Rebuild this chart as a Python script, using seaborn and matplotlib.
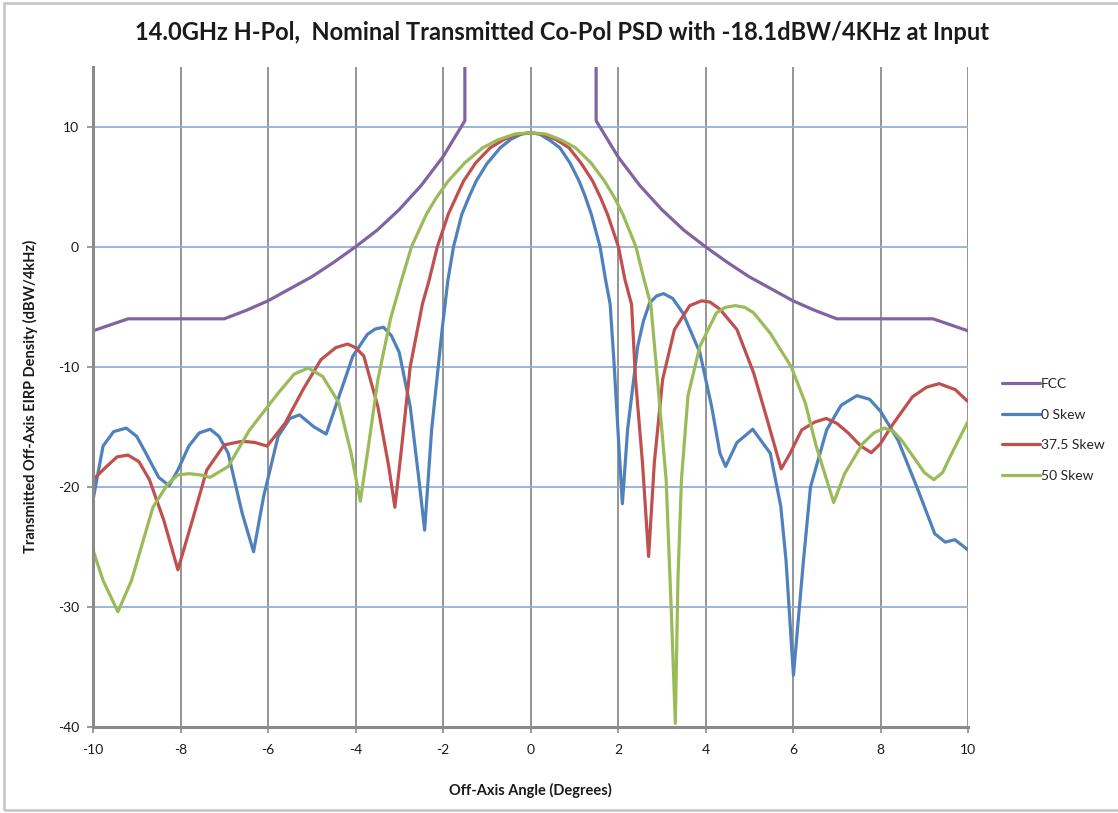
import numpy as np
import pandas as pd
import matplotlib.pyplot as plt
import seaborn as sns
from matplotlib.lines import Line2D
from matplotlib.patches import Rectangle

# ---- data ----
fcc_deg = [-10, -9.2, -7, -6.5, -6, -5.5, -5, -4.5, -4, -3.5, -3, -2.5, -2, -1.5, -1.5,
           1.5, 1.5, 2, 2.5, 3, 3.5, 4, 4.5, 5, 5.5, 6, 6.5, 7, 9.2, 10]
fcc_db = [-7.0, -6.0, -6.0, -5.3, -4.5, -3.5, -2.5, -1.3, 0.0, 1.4, 3.1, 5.1, 7.5, 10.5, 15,
          15, 10.5, 7.5, 5.1, 3.1, 1.4, 0.0, -1.3, -2.5, -3.5, -4.5, -5.3, -6.0, -6.0, -7.0]
fcc_seg = ["left"] * 15 + ["right"] * 15

blue_deg = [-10, -9.77, -9.53, -9.24, -9.0, -8.79, -8.5, -8.26, -8.06, -7.81,
            -7.57, -7.32, -7.12, -6.91, -6.59, -6.33, -6.1, -5.77, -5.5, -5.28,
            -4.95, -4.67, -4.38, -4.06, -3.73, -3.55, -3.36, -3.18, -3.0, -2.75,
            -2.55, -2.42, -2.26, -2.02, -1.89, -1.76, -1.57, -1.4, -1.24, -1.0,
            -0.69, -0.45, -0.2, 0, 0.2, 0.45, 0.67, 0.9, 1.11, 1.25,
            1.39, 1.59, 1.72, 1.82, 1.91, 2.02, 2.1, 2.22, 2.45, 2.58,
            2.72, 2.88, 3.04, 3.25, 3.48, 3.87, 4.14, 4.33, 4.46, 4.72,
            5.08, 5.48, 5.72, 5.84, 6.01, 6.24, 6.40, 6.77, 7.1, 7.46,
            7.75, 8.0, 8.4, 8.83, 9.24, 9.48, 9.7, 10]
blue_db = [-21.1, -16.6, -15.4, -15.1, -15.8, -17.2, -19.2, -19.9, -18.6, -16.6,
           -15.5, -15.2, -15.8, -17.2, -22.2, -25.4, -20.8, -15.8, -14.3, -14.0,
           -15.0, -15.6, -12.5, -9.1, -7.3, -6.85, -6.7, -7.4, -8.8, -13.3,
           -19.4, -23.6, -15.25, -6.9, -2.83, 0, 2.71, 4.2, 5.48, 6.9,
           8.25, 8.95, 9.4, 9.5, 9.4, 8.85, 8.25, 7.0, 5.48, 4.2,
           2.71, 0, -2.83, -4.76, -9.7, -16.6, -21.4, -15.2, -8.3, -6.2,
           -4.7, -4.1, -3.9, -4.3, -5.5, -8.8, -13.3, -17.2, -18.3, -16.3,
           -15.2, -17.2, -21.6, -26.1, -35.7, -26.1, -20, -15.25, -13.2, -12.4,
           -12.7, -13.7, -16.1, -20, -23.9, -24.6, -24.4, -25.25]

red_deg = [-10, -9.69, -9.45, -9.2, -8.95, -8.71, -8.38, -8.06, -7.73, -7.4,
           -7.0, -6.59, -6.3, -6.02, -5.61, -5.2, -4.79, -4.45, -4.18, -4.0,
           -3.81, -3.49, -3.24, -3.1, -2.96, -2.75, -2.47, -2.32, -2.13, -1.88,
           -1.53, -1.25, -0.92, -0.6, -0.3, 0, 0.3, 0.6, 0.88, 1.15,
           1.42, 1.6, 1.76, 2.01, 2.16, 2.31, 2.40, 2.56, 2.70, 2.83,
           3.02, 3.29, 3.64, 3.91, 4.1, 4.33, 4.72, 5.1, 5.41, 5.73,
           5.92, 6.2, 6.5, 6.76, 7.0, 7.26, 7.55, 7.79, 8.0, 8.24,
           8.73, 9.05, 9.34, 9.71, 10]
red_db = [-19.4, -18.3, -17.5, -17.35, -17.9, -19.4, -22.8, -26.9, -22.8, -18.6,
          -16.5, -16.2, -16.3, -16.6, -14.7, -11.9, -9.4, -8.4, -8.1, -8.4,
          -9.1, -13.3, -18.3, -21.7, -17.2, -10, -4.76, -2.83, 0, 2.71,
          5.48, 7.0, 8.25, 8.95, 9.35, 9.5, 9.35, 8.9, 8.25, 7.0,
          5.48, 4.1, 2.71, 0, -2.75, -4.8, -11, -18, -25.8, -18,
          -11.05, -6.9, -4.9, -4.5, -4.6, -5.2, -6.9, -10.5, -14.4, -18.5,
          -17.3, -15.25, -14.6, -14.3, -14.7, -15.5, -16.6, -17.15, -16.4, -15,
          -12.5, -11.7, -11.4, -11.9, -12.9]

green_deg = [-10, -9.77, -9.43, -9.12, -8.63, -8.3, -8.06, -7.8, -7.55, -7.32,
             -6.91, -6.42, -5.77, -5.4, -5.08, -4.75, -4.38, -4.1, -3.89, -3.7,
             -3.49, -3.2, -2.95, -2.72, -2.38, -2.15, -1.88, -1.5, -1.09, -0.75,
             -0.35, 0, 0.35, 0.7, 1.03, 1.38, 1.69, 1.92, 2.11, 2.41,
             2.6, 2.75, 2.87, 3.1, 3.22, 3.31, 3.37, 3.45, 3.6, 3.87,
             4.25, 4.45, 4.68, 4.9, 5.1, 5.48, 5.72, 5.96, 6.28, 6.53,
             6.93, 7.18, 7.59, 7.85, 8.09, 8.3, 8.48, 8.81, 9.0, 9.22,
             9.42, 9.63, 10]
green_db = [-25.25, -27.8, -30.4, -27.8, -21.7, -19.8, -19.0, -18.9, -19.0, -19.2,
            -18.3, -15.25, -12.2, -10.6, -10.1, -10.8, -13.0, -17.2, -21.2, -16.5,
            -11.1, -6.0, -2.8, 0, 2.71, 4.1, 5.48, 7.0, 8.25, 8.9,
            9.4, 9.5, 9.4, 8.9, 8.25, 7.0, 5.48, 4.1, 2.71, 0,
            -2.8, -4.8, -9.7, -19.4, -30.5, -39.7, -27.7, -19.4, -12.4, -8.3,
            -5.5, -5.05, -4.9, -5.05, -5.5, -7.2, -8.6, -10, -13, -16.6,
            -21.3, -18.9, -16.4, -15.5, -15.1, -15.4, -16.1, -17.8, -18.8, -19.4,
            -18.8, -17.2, -14.55]

series_names = ["FCC", "0 Skew", "37.5 Skew", "50 Skew"]
colors = {"FCC": "#8064A2", "0 Skew": "#4F81BD", "37.5 Skew": "#C0504D", "50 Skew": "#9BBB59"}

title = "14.0GHz H-Pol,  Nominal Transmitted Co-Pol PSD with -18.1dBW/4KHz at Input"
xlabel = "Off-Axis Angle (Degrees)"
ylabel = "Transmitted Off-Axis EIRP Density (dBW/4kHz)"
x_ticks = [-10, -8, -6, -4, -2, 0, 2, 4, 6, 8, 10]
y_ticks = [-40, -30, -20, -10, 0, 10]

# ---- build a long table ----
frames = [
    pd.DataFrame({"angle": fcc_deg, "db": fcc_db, "series": "FCC", "seg": fcc_seg}),
    pd.DataFrame({"angle": blue_deg, "db": blue_db, "series": "0 Skew", "seg": "a"}),
    pd.DataFrame({"angle": red_deg, "db": red_db, "series": "37.5 Skew", "seg": "a"}),
    pd.DataFrame({"angle": green_deg, "db": green_db, "series": "50 Skew", "seg": "a"}),
]
df = pd.concat(frames, ignore_index=True)
df["unit"] = df["series"] + "_" + df["seg"]

# ---- style ----
sns.set_theme(style="white")
plt.rcParams["font.family"] = ["Lato", "DejaVu Sans"]

fig = plt.figure(figsize=(11.18, 8.13), dpi=100)
ax = fig.add_axes([93 / 1118, 1 - 727 / 813, 875 / 1118, (727 - 66.7) / 813])

sns.lineplot(data=df, x="angle", y="db", hue="series", units="unit", estimator=None,
             sort=False, palette=colors, hue_order=series_names, linewidth=2.3,
             legend=False, ax=ax)
for ln in ax.get_lines():
    ln.set_solid_joinstyle("round")
    ln.set_solid_capstyle("round")

ax.set_xlim(-10, 10)
ax.set_ylim(-40, 15)
ax.set_xticks(x_ticks)
ax.set_yticks(y_ticks)
ax.set_xticklabels([str(t) for t in x_ticks])
ax.set_yticklabels([str(t) for t in y_ticks])

ax.xaxis.grid(True, color="#8c8c8c", linewidth=1.3)
ax.yaxis.grid(True, color="#93afd8", linewidth=1.3)
ax.set_axisbelow(True)

for side in ["top", "right"]:
    ax.spines[side].set_visible(False)
for side in ["left", "bottom"]:
    ax.spines[side].set_color("#8a8a8a")
    ax.spines[side].set_linewidth(2.2)

ax.tick_params(axis="both", which="major", direction="out", length=4, width=1.2,
               color="#8a8a8a", labelsize=10, labelcolor="#1a1a1a")
ax.tick_params(axis="y", pad=6)
ax.tick_params(axis="x", pad=8)
ax.tick_params(left=True, bottom=True)

ax.set_xlabel(xlabel, fontsize=10.5, fontweight="bold", color="#1a1a1a")
ax.set_ylabel(ylabel, fontsize=10.5, fontweight="bold", color="#1a1a1a")
ax.xaxis.set_label_coords(0.5, (727 - 783) / 660)
ax.yaxis.set_label_coords((38 - 93) / 875, 0.5)

fig.text(562 / 1118, 1 - 32 / 813, title, ha="center", va="center",
         fontsize=17, fontweight="bold", color="#1a1a1a")

handles = [Line2D([0], [0], color=colors[n], linewidth=2.3) for n in series_names]
ax.legend(handles, series_names, loc="upper left",
          bbox_to_anchor=((1002 - 93) / 875, (727 - 378) / 660),
          frameon=False, fontsize=10, handlelength=2.7, handletextpad=0.1,
          labelspacing=1.35, borderpad=0, borderaxespad=0)

# thin outer chart border like the spreadsheet chart area
fig.patches.append(Rectangle((4 / 1118, 1 - 810 / 813), 1.2, 807 / 813,
                             transform=fig.transFigure, fill=False,
                             edgecolor="#c4c4c4", linewidth=1.8))

fig.savefig("out.png", dpi=100)
